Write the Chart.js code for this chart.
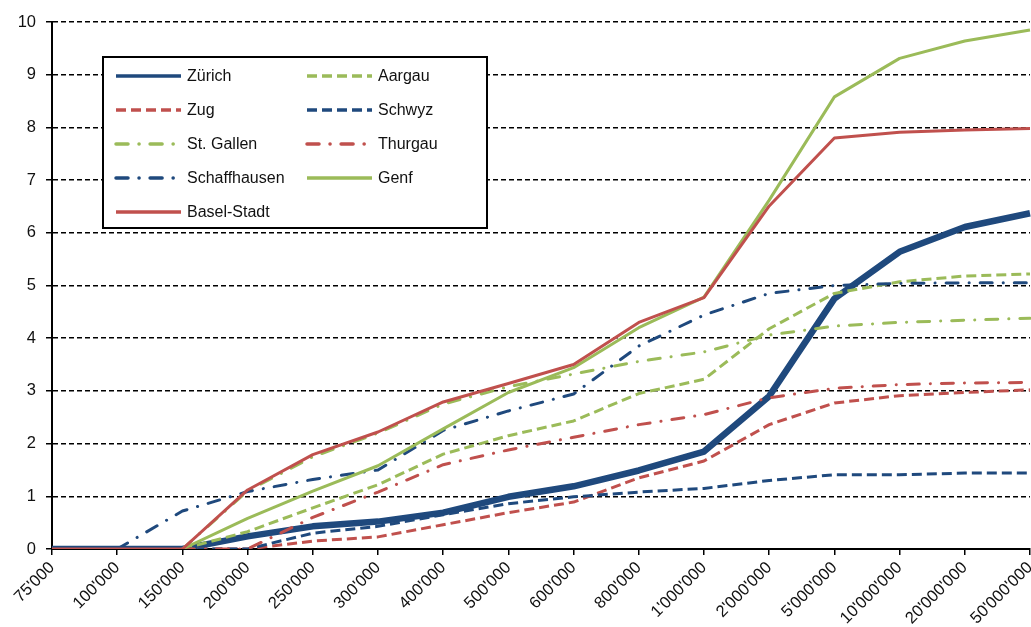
<!DOCTYPE html>
<html>
<head>
<meta charset="utf-8">
<script src="https://cdn.jsdelivr.net/npm/chart.js@4"></script>
<style>
  body { margin: 0; background: #fff; }
  #wrap { width: 1031px; height: 627px; position: relative; }
</style>
</head>
<body>
<div id="wrap"><canvas id="chart"></canvas></div>
<script>
const categories = ["75'000", "100'000", "150'000", "200'000", "250'000", "300'000", "400'000", "500'000",
    "600'000", "800'000", "1'000'000", "2'000'000", "5'000'000", "10'000'000", "20'000'000", "50'000'000"];

const zuerich     = [0, 0, 0, 0.24, 0.43, 0.52, 0.69, 0.99, 1.19, 1.49, 1.85, 2.9, 4.75, 5.64, 6.11, 6.37];
const aargau      = [null, null, 0, 0.33, 0.78, 1.22, 1.8, 2.15, 2.43, 2.95, 3.22, 4.18, 4.85, 5.07, 5.18, 5.22];
const zug         = [null, null, 0, 0, 0.15, 0.23, 0.46, 0.69, 0.89, 1.35, 1.67, 2.36, 2.77, 2.91, 2.97, 3.02];
const schwyz      = [null, null, 0, 0, 0.3, 0.43, 0.65, 0.86, 0.99, 1.08, 1.15, 1.3, 1.41, 1.41, 1.44, 1.44];
const stGallen    = [null, null, 0, 1.1, 1.75, 2.2, 2.75, 3.08, 3.32, 3.56, 3.74, 4.06, 4.23, 4.3, 4.34, 4.38];
const thurgau     = [null, null, 0, 0, 0.6, 1.08, 1.6, 1.88, 2.12, 2.36, 2.55, 2.87, 3.05, 3.12, 3.15, 3.16];
const schaffhausen = [null, 0, 0.72, 1.09, 1.32, 1.5, 2.25, 2.62, 2.94, 3.85, 4.44, 4.85, 5.0, 5.04, 5.05, 5.05];
const genf        = [null, null, 0, 0.58, 1.1, 1.58, 2.28, 2.97, 3.44, 4.2, 4.78, 6.62, 8.58, 9.31, 9.64, 9.85];
const baselStadt  = [0, 0, 0, 1.12, 1.79, 2.22, 2.79, 3.14, 3.5, 4.3, 4.77, 6.51, 7.8, 7.91, 7.95, 7.98];

const BLUE = '#1F497D';
const RED = '#C0504D';
const GREEN = '#9BBB59';
const DASH = [10, 5];
const DASHDOT = [12, 11, 0.1, 11];

function series(label, data, color, dash, width) {
    return {
        label: label,
        data: data,
        borderColor: color,
        backgroundColor: color,
        borderWidth: width || 3,
        borderDash: dash || [],
        borderCapStyle: dash === DASHDOT ? 'round' : 'butt',
        borderJoinStyle: 'round',
        pointRadius: 0,
        tension: 0,
        fill: false
    };
}

const datasets = [
    series('Zürich', zuerich, BLUE, null, 6.5),
    series('Aargau', aargau, GREEN, DASH),
    series('Zug', zug, RED, DASH),
    series('Schwyz', schwyz, BLUE, DASH),
    series('St. Gallen', stGallen, GREEN, DASHDOT),
    series('Thurgau', thurgau, RED, DASHDOT),
    series('Schaffhausen', schaffhausen, BLUE, DASHDOT),
    series('Genf', genf, GREEN),
    series('Basel-Stadt', baselStadt, RED)
];
// later series drawn on top, like the original
datasets.forEach((d, i) => d.order = -i);

const FONT = '"Liberation Sans", Arial, sans-serif';

// boxed legend, two columns, inside the plot
const boxLegend = {
    id: 'boxLegend',
    afterDraw(chart) {
        const ctx = chart.ctx;
        const left = 103, top = 57, right = 487, bottom = 228;
        ctx.save();
        ctx.fillStyle = '#fff';
        ctx.fillRect(left, top, right - left, bottom - top);
        ctx.lineWidth = 2;
        ctx.strokeStyle = '#000';
        ctx.strokeRect(left, top, right - left, bottom - top);
        ctx.font = '16px ' + FONT;
        ctx.textBaseline = 'middle';
        chart.data.datasets.forEach((ds, i) => {
            const col = i % 2, row = Math.floor(i / 2);
            const x0 = col === 0 ? 116 : 307;
            const y = 76 + row * 34;
            ctx.beginPath();
            ctx.strokeStyle = ds.borderColor;
            ctx.lineWidth = 3.5;
            ctx.lineCap = ds.borderCapStyle;
            ctx.setLineDash(ds.borderDash);
            ctx.moveTo(x0, y);
            ctx.lineTo(x0 + 65, y);
            ctx.stroke();
            ctx.setLineDash([]);
            ctx.fillStyle = '#111';
            ctx.fillText(ds.label, x0 + 71, y + 1);
        });
        ctx.restore();
    }
};

new Chart(document.getElementById('chart').getContext('2d'), {
    type: 'line',
    data: { labels: categories, datasets: datasets },
    options: {
        responsive: true,
        maintainAspectRatio: false,
        animation: false,
        layout: { padding: { top: 22, right: 1, left: 0, bottom: 0 } },
        plugins: { legend: { display: false }, tooltip: { enabled: false } },
        scales: {
            x: {
                offset: false,
                afterFit: s => { s.height = 78; s.paddingRight = 0; s.paddingLeft = 0; },
                grid: { drawOnChartArea: false, drawTicks: true, tickLength: 6, color: '#000', lineWidth: 1.5 },
                border: { display: true, color: '#000', width: 2 },
                ticks: {
                    minRotation: 45, maxRotation: 45, autoSkip: false, padding: 3,
                    color: '#111', font: { family: FONT, size: 16.5 }
                }
            },
            y: {
                min: 0, max: 10,
                afterFit: s => { s.width = 52; },
                grid: { color: '#000', lineWidth: 1.5, drawTicks: true, tickLength: 6 },
                border: { display: true, color: '#000', width: 2, dash: [5, 3] },
                ticks: { stepSize: 1, padding: 10, color: '#111', font: { family: FONT, size: 16.5 } }
            }
        }
    },
    plugins: [boxLegend]
});
</script>
</body>
</html>
